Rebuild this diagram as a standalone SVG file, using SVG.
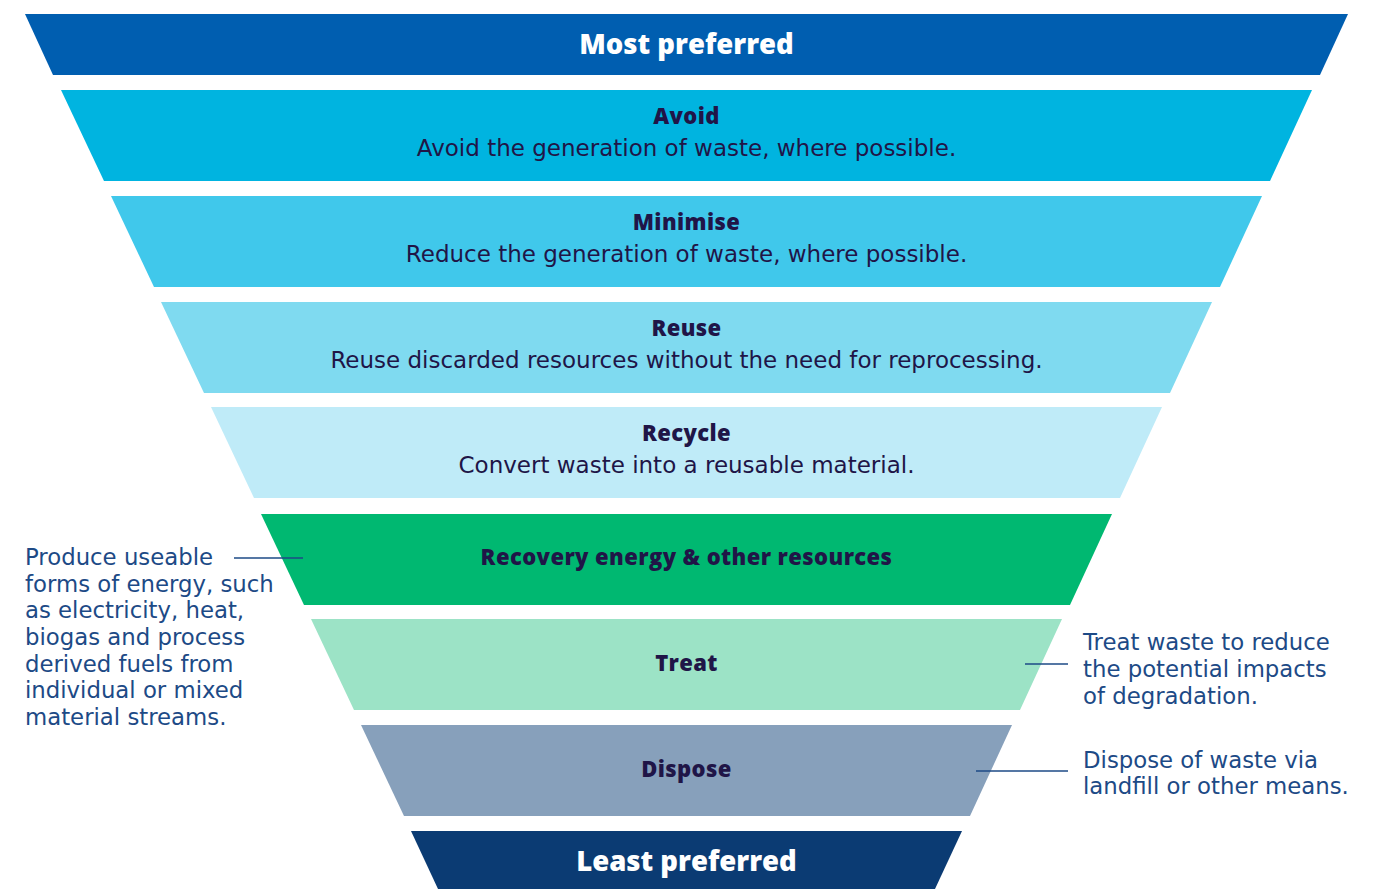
<svg xmlns="http://www.w3.org/2000/svg" width="1389" height="889" viewBox="0 0 1389 889">
<style>
.h{font-family:"Open Sans","Noto Sans",sans-serif;font-weight:800;font-size:22px;letter-spacing:0.4px;fill:#201547;text-anchor:middle}
.d{font-family:"DejaVu Sans",sans-serif;font-size:23px;fill:#201547;text-anchor:middle}
.t{font-family:"Open Sans","Noto Sans",sans-serif;font-weight:800;font-size:27.5px;fill:#ffffff;text-anchor:middle}
.s{font-family:"DejaVu Sans",sans-serif;font-size:22.8px;fill:#1d4a86}
.ln{stroke:#1d4a86;stroke-width:1.3;fill:none}
</style>
<g id="most-preferred">
<polygon points="25,14 1348,14 1320,75 53,75" fill="#005EB0"/>
<text class="t" x="686.5" y="54">Most preferred</text>
</g>
<g id="avoid">
<polygon points="61,90 1312,90 1270,181 104,181" fill="#00B4E0"/>
<text class="h" x="686.5" y="124">Avoid</text>
<text class="d" x="686.5" y="156">Avoid the generation of waste, where possible.</text>
</g>
<g id="minimise">
<polygon points="111,196 1262,196 1220,287 154,287" fill="#40C8EB"/>
<text class="h" x="686.5" y="230">Minimise</text>
<text class="d" x="686.5" y="262">Reduce the generation of waste, where possible.</text>
</g>
<g id="reuse">
<polygon points="161,302 1212,302 1170,393 204,393" fill="#7FDAF0"/>
<text class="h" x="686.5" y="336">Reuse</text>
<text class="d" x="686.5" y="368">Reuse discarded resources without the need for reprocessing.</text>
</g>
<g id="recycle">
<polygon points="211,407 1162,407 1120,498 254,498" fill="#BFEBF8"/>
<text class="h" x="686.5" y="441">Recycle</text>
<text class="d" x="686.5" y="473">Convert waste into a reusable material.</text>
</g>
<g id="recovery">
<polygon points="261,514 1112,514 1070,605 304,605" fill="#00B871"/>
<text class="h" x="686.5" y="565">Recovery energy &amp; other resources</text>
</g>
<g id="treat">
<polygon points="311,619 1062,619 1020,710 354,710" fill="#9CE3C6"/>
<text class="h" x="686.5" y="671">Treat</text>
</g>
<g id="dispose">
<polygon points="361,725 1012,725 970,816 404,816" fill="#87A0BB"/>
<text class="h" x="686.5" y="777">Dispose</text>
</g>
<g id="least-preferred">
<polygon points="411,831 962,831 935,889 438,889" fill="#0B3B73"/>
<text class="t" x="686.5" y="871">Least preferred</text>
</g>
<g id="connectors">
<line class="ln" x1="234" y1="558" x2="303" y2="558"/>
<line class="ln" x1="1025" y1="664" x2="1068" y2="664"/>
<line class="ln" x1="976" y1="771" x2="1068" y2="771"/>
</g>
<g id="note-recovery">
<text class="s" x="25" y="565">Produce useable</text>
<text class="s" x="25" y="592">forms of energy, such</text>
<text class="s" x="25" y="618">as electricity, heat,</text>
<text class="s" x="25" y="645">biogas and process</text>
<text class="s" x="25" y="672">derived fuels from</text>
<text class="s" x="25" y="698">individual or mixed</text>
<text class="s" x="25" y="725">material streams.</text>
</g>
<g id="note-treat">
<text class="s" x="1083" y="650">Treat waste to reduce</text>
<text class="s" x="1083" y="677">the potential impacts</text>
<text class="s" x="1083" y="704">of degradation.</text>
</g>
<g id="note-dispose">
<text class="s" x="1083" y="768">Dispose of waste via</text>
<text class="s" x="1083" y="794">landfill or other means.</text>
</g>
</svg>
